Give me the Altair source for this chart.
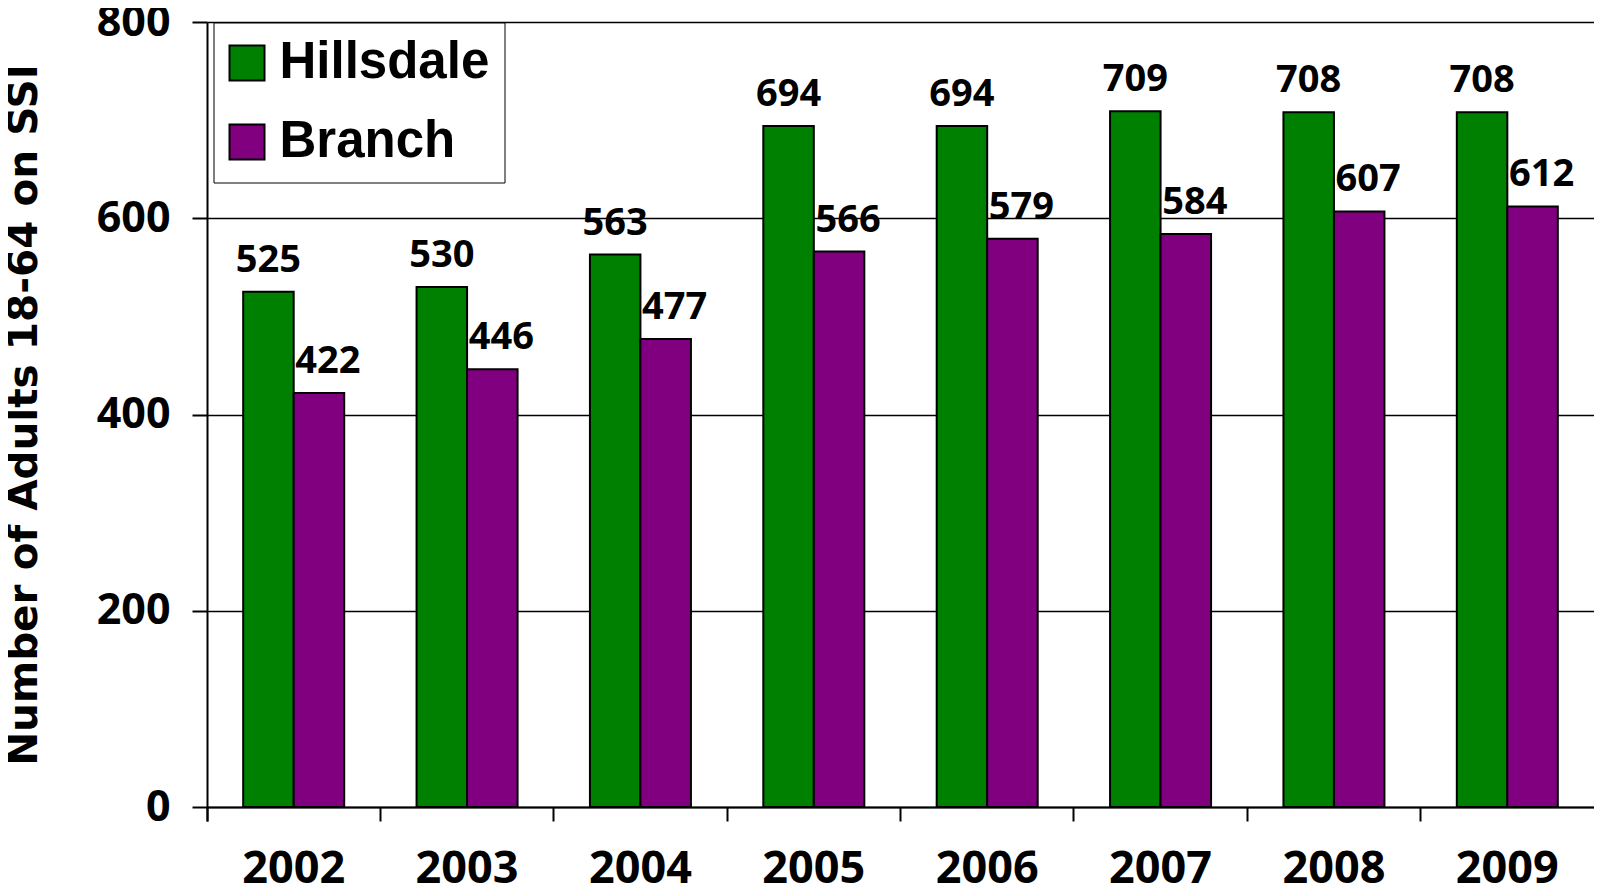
import altair as alt
import pandas as pd

years = ["2002", "2003", "2004", "2005", "2006", "2007", "2008", "2009"]
hillsdale = [525, 530, 563, 694, 694, 709, 708, 708]
branch = [422, 446, 477, 566, 579, 584, 607, 612]
series = ["Hillsdale", "Branch"]
colors = ["#008000", "#800080"]

rows = []
for i, y in enumerate(years):
    rows.append({"year": y, "county": "Hillsdale", "value": hillsdale[i]})
    rows.append({"year": y, "county": "Branch", "value": branch[i]})
df = pd.DataFrame(rows)

AX_FONT = "Open Sans"
PLOT_W = 1387
PLOT_H = 785
STEP = PLOT_W / 8.0
BAR_W = 50.5
OUTER = (STEP / BAR_W - 2) / 2

x_enc = alt.X("year:N", sort=years,
              scale=alt.Scale(paddingInner=0, paddingOuter=0),
              axis=alt.Axis(title=None, bandPosition=0, tickExtra=True, tickSize=14,
                            tickColor="black", tickWidth=2, domainColor="black", domainWidth=2,
                            labelFont=AX_FONT, labelFontSize=45, labelFontWeight="bold",
                            labelColor="black", labelPadding=25, labelBaseline="top",
                            labelAngle=0, grid=False))
xo_enc = alt.XOffset("county:N", sort=series,
                     scale=alt.Scale(domain=series, paddingInner=0, paddingOuter=OUTER))
y_enc = alt.Y("value:Q",
              scale=alt.Scale(domain=[0, 800], nice=False, zero=True),
              axis=alt.Axis(title="Number of Adults 18-64 on SSI", values=[0, 200, 400, 600, 800],
                            tickSize=15, tickColor="black", tickWidth=2,
                            domainColor="black", domainWidth=2,
                            grid=True, gridColor="black", gridWidth=1.5, gridOpacity=1,
                            labelFont=AX_FONT, labelFontSize=43, labelFontWeight="bold",
                            labelColor="black", labelPadding=22,
                            titleFont="DejaVu Sans", titleFontSize=40.5, titleFontWeight="bold",
                            titleColor="black", titleX=-183, titleY=392.5, titleAngle=270,
                            titleAlign="center", titleBaseline="middle"))

bars = alt.Chart(df).mark_bar(stroke="black", strokeWidth=2, opacity=1).encode(
    x=x_enc,
    xOffset=xo_enc,
    y=y_enc,
    color=alt.Color("county:N", sort=series,
                    scale=alt.Scale(domain=series, range=colors),
                    legend=alt.Legend(orient="none", legendX=6.5, legendY=0.5, title=None,
                                      labelFont="Liberation Sans", labelFontSize=51,
                                      labelFontWeight="bold", labelColor="black",
                                      labelLimit=0,
                                      symbolType="square", symbolSize=1225,
                                      symbolStrokeColor="black", symbolStrokeWidth=2,
                                      symbolOpacity=1, symbolOffset=-7,
                                      strokeColor="black", fillColor="white",
                                      padding=15, rowPadding=27, labelOffset=7)),
)

def labels(name, dx):
    return alt.Chart(df).transform_filter(alt.datum.county == name).mark_text(
        font=AX_FONT, fontSize=38, fontWeight="bold", color="black",
        baseline="alphabetic", align="center", dy=-20, dx=dx,
    ).encode(
        x=alt.X("year:N", sort=years),
        xOffset=alt.XOffset("county:N", sort=series),
        y=alt.Y("value:Q"),
        text=alt.Text("value:Q"),
    )

chart = alt.layer(bars, labels("Hillsdale", 0), labels("Branch", 9)).properties(
    width=PLOT_W, height=PLOT_H,
    autosize=alt.AutoSizeParams(type="none"),
    padding={"left": 199, "top": 14, "right": 0, "bottom": 76},
).configure_view(stroke="black", strokeWidth=2).configure(background="white")

chart.save("out.html", embed_options={"renderer": "svg", "actions": False})
